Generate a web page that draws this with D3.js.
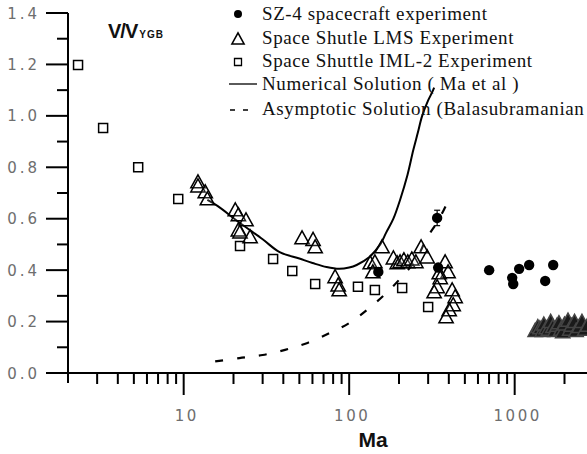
<!DOCTYPE html>
<html>
<head>
<meta charset="utf-8">
<script src="https://cdn.jsdelivr.net/npm/d3@7"></script>
<style>
  html, body { margin: 0; padding: 0; background: #fff; }
  svg { display: block; }
</style>
</head>
<body>
<svg id="chart" width="587" height="454"></svg>
<script>
// ---- Data ----
const yTickLabels = ["0.0", "0.2", "0.4", "0.6", "0.8", "1.0", "1.2", "1.4"];
const xTickLabels = ["10", "100", "1000"];
const legendLabels = [
  "SZ-4 spacecraft experiment",
  "Space Shutle LMS Experiment",
  "Space Shuttle IML-2 Experiment",
  "Numerical Solution ( Ma et al )",
  "Asymptotic Solution (Balasubramanian"
];

// SZ-4 spacecraft experiment (filled circles)
const sz4Ma  = [340, 150, 345, 701, 966, 980, 1064, 1223, 1529, 1709];
const sz4V   = [0.603, 0.393, 0.41, 0.40, 0.37, 0.346, 0.405, 0.42, 0.358, 0.42];
const sz4Err = [0.03, 0, 0, 0, 0, 0, 0, 0, 0, 0];

// Space Shuttle LMS experiment (open triangles)
const lmsMa = [12.2, 12.2, 13.5, 13.9, 20.5, 21.4, 23.8, 21.4, 21.9, 25.2,
  51.9, 60.5, 62.3, 82.2, 85.8, 87,
  134, 143, 139, 158, 185, 195, 203, 214, 226, 239, 253, 272, 296,
  380, 396, 350, 355, 340, 326, 419, 437, 425, 402, 385,
  1330, 1380, 1420, 1470, 1500, 1550, 1600, 1650, 1700, 1750, 1800, 1850,
  1900, 1950, 2000, 2100, 2150, 2200, 2300, 2350, 2450, 2550, 2650, 2750];
const lmsV = [0.743, 0.727, 0.704, 0.677, 0.634, 0.615, 0.595, 0.556, 0.548, 0.529,
  0.525, 0.519, 0.49, 0.374, 0.342, 0.323,
  0.428, 0.432, 0.393, 0.49, 0.447, 0.428, 0.432, 0.44, 0.432, 0.443, 0.432, 0.49, 0.451,
  0.432, 0.393, 0.389, 0.37, 0.335, 0.315, 0.323, 0.296, 0.265, 0.245, 0.218,
  0.165, 0.18, 0.175, 0.165, 0.19, 0.175, 0.17, 0.2, 0.18, 0.165, 0.185, 0.195,
  0.17, 0.16, 0.19, 0.205, 0.17, 0.185, 0.2, 0.165, 0.18, 0.2, 0.17, 0.185];

// Space Shuttle IML-2 experiment (open squares)
const imlMa = [2.30, 3.26, 5.31, 9.27, 21.9, 34.7, 45.3, 62.3, 113, 143, 209, 300];
const imlV  = [1.198, 0.953, 0.80, 0.677, 0.494, 0.443, 0.397, 0.346, 0.335, 0.323, 0.331, 0.257];

// Numerical solution (Ma et al) – solid curve
const numMa = [13.9, 16, 21.7, 30, 38, 50, 60, 73, 87, 100, 111, 132, 154, 167, 185, 203, 225, 244, 260, 276, 300, 318, 326];
const numV  = [0.673, 0.65, 0.585, 0.52, 0.47, 0.445, 0.428, 0.412, 0.405, 0.41, 0.42, 0.45, 0.5, 0.545, 0.6, 0.673, 0.77, 0.867, 0.935, 1.0, 1.06, 1.093, 1.11];

// Asymptotic solution (Balasubramanian) – dashed curve
const asyMa = [15.5, 21.7, 30, 41, 56, 76, 100, 128, 167, 208, 253, 295, 350, 410];
const asyV  = [0.045, 0.058, 0.07, 0.09, 0.117, 0.155, 0.194, 0.245, 0.31, 0.374, 0.44, 0.525, 0.6, 0.69];

// ---- Drawing ----
const svg = d3.select("#chart");
const decade = 165.5;
const x = d3.scaleLog().domain([2, 10000]).range([68, 68 + decade * Math.log10(5000)]);
const y = d3.scaleLinear().domain([0, 1.4]).range([373, 13]);

const ink = "#000";
const labelGray = "#6e6e6e";

// Y axis line and ticks
svg.append("line").attr("x1", x(2)).attr("x2", x(2)).attr("y1", y(1.4)).attr("y2", y(0) + 10)
  .attr("stroke", ink).attr("stroke-width", 2);
const yMajor = yTickLabels.map(Number);
const yMinor = d3.range(0.1, 1.4, 0.2);
svg.selectAll(".ymaj").data(yMajor).join("line")
  .attr("x1", x(2) - 22).attr("x2", x(2)).attr("y1", d => y(d)).attr("y2", d => y(d))
  .attr("stroke", ink).attr("stroke-width", 2);
svg.selectAll(".ymin").data(yMinor).join("line")
  .attr("x1", x(2) - 11).attr("x2", x(2)).attr("y1", d => y(d)).attr("y2", d => y(d))
  .attr("stroke", ink).attr("stroke-width", 2);
svg.selectAll(".ylab").data(yTickLabels).join("text")
  .attr("x", 40).attr("y", d => y(+d) + 5.5)
  .attr("text-anchor", "end")
  .attr("font-family", "DejaVu Sans, Verdana, sans-serif")
  .attr("font-size", 15).attr("letter-spacing", 3)
  .attr("fill", labelGray).text(d => d);

// X axis line and ticks
svg.append("line").attr("x1", x(2) - 22).attr("x2", 587).attr("y1", y(0)).attr("y2", y(0))
  .attr("stroke", ink).attr("stroke-width", 2);
const xAll = x.ticks().filter(d => d > 2 && d < 10000);
const xMajor = xTickLabels.map(Number);
svg.selectAll(".xt").data(xAll).join("line")
  .attr("x1", d => x(d)).attr("x2", d => x(d))
  .attr("y1", y(0)).attr("y2", d => y(0) + (xMajor.includes(d) ? 22 : 11))
  .attr("stroke", ink).attr("stroke-width", 2);
svg.selectAll(".xlab").data(xTickLabels).join("text")
  .attr("x", d => x(+d) + 3).attr("y", 421)
  .attr("text-anchor", "middle")
  .attr("font-family", "DejaVu Sans, Verdana, sans-serif")
  .attr("font-size", 15).attr("letter-spacing", 2.5)
  .attr("fill", labelGray).text(d => d);

svg.append("text").attr("x", 373).attr("y", 447).attr("text-anchor", "middle")
  .attr("font-family", "Liberation Sans, Arial, sans-serif")
  .attr("font-size", 21).attr("font-weight", "bold").attr("fill", "#111").text("Ma");

// Title V/V_YGB
const title = svg.append("text").attr("x", 108).attr("y", 38)
  .attr("font-family", "Liberation Sans, Arial, sans-serif").attr("font-weight", "bold").attr("fill", "#111");
title.append("tspan").attr("font-size", 20).attr("letter-spacing", -1).text("V/V");
title.append("tspan").attr("font-size", 10).attr("letter-spacing", 1).attr("dx", 2).text("YGB");

// Curves
const lineGen = d3.line().x(d => x(d[0])).y(d => y(d[1])).curve(d3.curveCatmullRom);
svg.append("path").datum(d3.zip(numMa, numV)).attr("d", lineGen)
  .attr("fill", "none").attr("stroke", ink).attr("stroke-width", 2);
svg.append("path").datum(d3.zip(asyMa, asyV)).attr("d", lineGen)
  .attr("fill", "none").attr("stroke", ink).attr("stroke-width", 2.2)
  .attr("stroke-dasharray", "8,14");

// Marker shapes
const triPath = s => `M0,${-s * 0.55}L${s * 0.55},${s * 0.45}L${-s * 0.55},${s * 0.45}Z`;
const sqPath = s => `M${-s / 2},${-s / 2}h${s}v${s}h${-s}Z`;

// IML-2 squares
svg.selectAll(".sq").data(d3.zip(imlMa, imlV)).join("path")
  .attr("d", sqPath(9))
  .attr("transform", d => `translate(${x(d[0])},${y(d[1])})`)
  .attr("fill", "none").attr("stroke", ink).attr("stroke-width", 1.5);

// LMS triangles
svg.selectAll(".tri").data(d3.zip(lmsMa, lmsV)).join("path")
  .attr("d", triPath(13))
  .attr("transform", d => `translate(${x(d[0])},${y(d[1])})`)
  .attr("fill", d => d[0] > 1000 ? "#1a1a1a" : "#fff").attr("fill-opacity", d => d[0] > 1000 ? 1 : 0.15)
  .attr("stroke", d => d[0] > 1000 ? "#444" : ink).attr("stroke-width", 1.5);

// SZ-4 circles and error bars
const sz = d3.zip(sz4Ma, sz4V, sz4Err);
svg.selectAll(".err").data(sz.filter(d => d[2] > 0)).join("g").each(function (d) {
  const g = d3.select(this);
  g.append("line").attr("x1", x(d[0])).attr("x2", x(d[0]))
    .attr("y1", y(d[1] + d[2])).attr("y2", y(d[1] - d[2])).attr("stroke", ink).attr("stroke-width", 1.2);
  [d[1] + d[2], d[1] - d[2]].forEach(v => g.append("line")
    .attr("x1", x(d[0]) - 3).attr("x2", x(d[0]) + 3).attr("y1", y(v)).attr("y2", y(v))
    .attr("stroke", ink).attr("stroke-width", 1.2));
});
svg.selectAll(".dot").data(sz).join("circle")
  .attr("cx", d => x(d[0])).attr("cy", d => y(d[1])).attr("r", 5.2)
  .attr("fill", ink);

// Legend
const legRows = [20, 44, 67, 90, 115];
const lx = 238;
svg.append("circle").attr("cx", lx).attr("cy", legRows[0] - 6).attr("r", 4).attr("fill", ink);
svg.append("path").attr("d", triPath(11)).attr("transform", `translate(${lx},${legRows[1] - 5})`)
  .attr("fill", "none").attr("stroke", ink).attr("stroke-width", 1.6);
svg.append("path").attr("d", sqPath(7)).attr("transform", `translate(${lx},${legRows[2] - 5})`)
  .attr("fill", "none").attr("stroke", ink).attr("stroke-width", 1.3);
svg.append("line").attr("x1", 229).attr("x2", 257).attr("y1", legRows[3] - 6).attr("y2", legRows[3] - 6)
  .attr("stroke", ink).attr("stroke-width", 1.3);
svg.append("line").attr("x1", 230).attr("x2", 256).attr("y1", legRows[4] - 5).attr("y2", legRows[4] - 5)
  .attr("stroke", ink).attr("stroke-width", 1.3).attr("stroke-dasharray", "5,8");
svg.selectAll(".leg").data(legendLabels).join("text")
  .attr("x", 262).attr("y", (d, i) => legRows[i])
  .attr("font-family", "Liberation Serif, Times New Roman, serif")
  .attr("font-size", 19).attr("letter-spacing", 0.6).attr("fill", "#111").text(d => d);
</script>
</body>
</html>
